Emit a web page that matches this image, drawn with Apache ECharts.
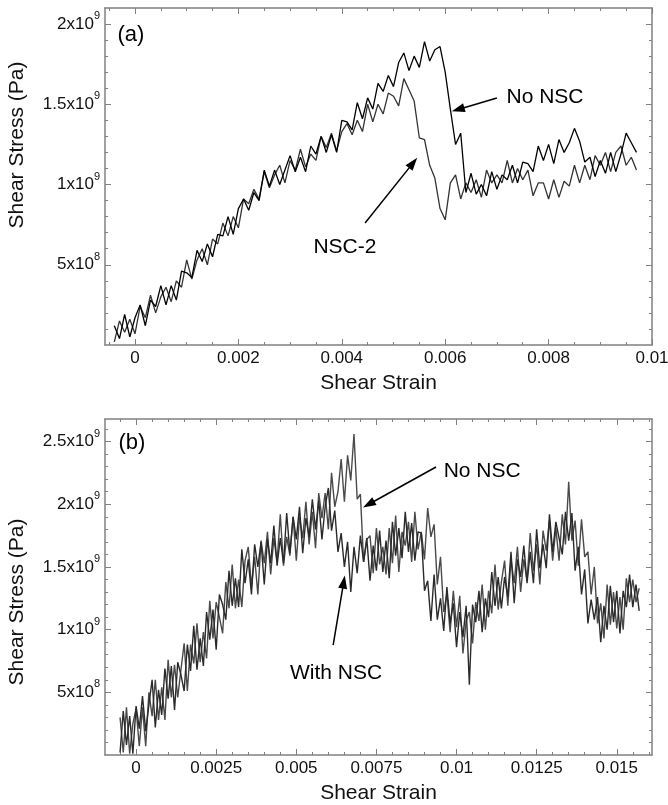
<!DOCTYPE html>
<html>
<head>
<meta charset="utf-8">
<script src="https://cdn.jsdelivr.net/npm/echarts@6/dist/echarts.min.js"></script>
<style>
  html, body { margin: 0; padding: 0; background: #fff; }
  #chart { width: 668px; height: 805px; }
</style>
</head>
<body>
<div id="chart"></div>
<script>
// stress values are in units of 1e9 Pa

// (a) No NSC vs NSC-2
var strainA = [
  -0.0004, -0.0003, -0.0002, -0.0001, 0, 0.0001, 0.0002, 0.0003, 0.0004, 0.0005,
  0.0006, 0.0007, 0.0008, 0.0009, 0.0010, 0.0011, 0.0012, 0.0013, 0.0014, 0.0015,
  0.0016, 0.0017, 0.0018, 0.0019, 0.0020, 0.0021, 0.0022, 0.0023, 0.0024, 0.0025,
  0.0026, 0.0027, 0.0028, 0.0029, 0.0030, 0.0031, 0.0032, 0.0033, 0.0034, 0.0035,
  0.0036, 0.0037, 0.0038, 0.0039, 0.0040, 0.0041, 0.0042, 0.0043, 0.0044, 0.0045,
  0.0046, 0.0047, 0.0048, 0.0049, 0.0050, 0.0051, 0.0052, 0.0053, 0.0054, 0.0055,
  0.0056, 0.0057, 0.0058, 0.0059, 0.0060, 0.0061, 0.0062, 0.0063, 0.0064, 0.0065,
  0.0066, 0.0067, 0.0068, 0.0069, 0.0070, 0.0071, 0.0072, 0.0073, 0.0074, 0.0075,
  0.0076, 0.0077, 0.0078, 0.0079, 0.0080, 0.0081, 0.0082, 0.0083, 0.0084, 0.0085,
  0.0086, 0.0087, 0.0088, 0.0089, 0.0090, 0.0091, 0.0092, 0.0093, 0.0094, 0.0095,
  0.0096, 0.0097
];
var stressNoNscA = [
  0.12, 0.04, 0.19, 0.05, 0.17, 0.25, 0.12, 0.28, 0.24, 0.37,
  0.25, 0.37, 0.28, 0.46, 0.45, 0.42, 0.59, 0.52, 0.63, 0.55,
  0.69, 0.68, 0.80, 0.69, 0.85, 0.91, 0.84, 0.95, 0.90, 1.09,
  0.99, 1.09, 1.00, 1.09, 1.18, 1.08, 1.17, 1.08, 1.24, 1.19,
  1.30, 1.20, 1.31, 1.20, 1.40, 1.39, 1.34, 1.51, 1.41, 1.54,
  1.47, 1.63, 1.58, 1.68, 1.61, 1.76, 1.82, 1.71, 1.80, 1.73,
  1.89, 1.77, 1.84, 1.86, 1.70, 1.47, 1.25, 1.32, 0.95, 1.07,
  0.94, 1.00, 0.93, 1.08, 0.97, 1.06, 1.03, 1.12, 1.01, 1.14,
  1.13, 1.08, 1.24, 1.15, 1.25, 1.13, 1.28, 1.20, 1.26, 1.35,
  1.27, 1.14, 1.17, 1.05, 1.15, 1.07, 1.20, 1.08, 1.19, 1.32,
  1.26, 1.20
];
var stressNsc2A = [
  0.02, 0.15, 0.08, 0.16, 0.07, 0.24, 0.17, 0.31, 0.20, 0.30,
  0.36, 0.27, 0.40, 0.36, 0.53, 0.41, 0.53, 0.60, 0.50, 0.66,
  0.63, 0.76, 0.68, 0.80, 0.73, 0.91, 0.88, 0.97, 0.91, 1.08,
  0.98, 1.06, 1.12, 1.01, 1.15, 1.09, 1.22, 1.11, 1.19, 1.15,
  1.30, 1.23, 1.32, 1.21, 1.33, 1.38, 1.31, 1.40, 1.33, 1.50,
  1.39, 1.50, 1.44, 1.57, 1.55, 1.49, 1.66, 1.59, 1.52, 1.29,
  1.28, 1.12, 1.04, 0.85, 0.78, 1.01, 1.06, 0.91, 1.01, 0.95,
  1.03, 0.92, 1.09, 1.01, 1.06, 1.01, 1.15, 1.01, 1.10, 1.03,
  1.09, 0.93, 1.01, 1.01, 0.91, 1.03, 0.92, 1.02, 0.99, 1.12,
  1.01, 1.12, 1.03, 1.18, 1.12, 1.20, 1.08, 1.20, 1.24, 1.12,
  1.17, 1.09
];

// (b) No NSC vs With NSC
var strainB = [
  -0.0005, -0.0004, -0.0003, -0.0002, -0.0001, 0, 0.0001, 0.0002, 0.0003, 0.0004,
  0.0005, 0.0006, 0.0007, 0.0008, 0.0009, 0.0010, 0.0011, 0.0012, 0.0013, 0.0014,
  0.0015, 0.0016, 0.0017, 0.0018, 0.0019, 0.0020, 0.0021, 0.0022, 0.0023, 0.0024,
  0.0025, 0.0026, 0.0027, 0.0028, 0.0029, 0.0030, 0.0031, 0.0032, 0.0033, 0.0034,
  0.0035, 0.0036, 0.0037, 0.0038, 0.0039, 0.0040, 0.0041, 0.0042, 0.0043, 0.0044,
  0.0045, 0.0046, 0.0047, 0.0048, 0.0049, 0.0050, 0.0051, 0.0052, 0.0053, 0.0054,
  0.0055, 0.0056, 0.0057, 0.0058, 0.0059, 0.0060, 0.0061, 0.0062, 0.0063, 0.0064,
  0.0065, 0.0066, 0.0067, 0.0068, 0.0069, 0.0070, 0.0071, 0.0072, 0.0073, 0.0074,
  0.0075, 0.0076, 0.0077, 0.0078, 0.0079, 0.0080, 0.0081, 0.0082, 0.0083, 0.0084,
  0.0085, 0.0086, 0.0087, 0.0088, 0.0089, 0.0090, 0.0091, 0.0092, 0.0093, 0.0094,
  0.0095, 0.0096, 0.0097, 0.0098, 0.0099, 0.0100, 0.0101, 0.0102, 0.0103, 0.0104,
  0.0105, 0.0106, 0.0107, 0.0108, 0.0109, 0.0110, 0.0111, 0.0112, 0.0113, 0.0114,
  0.0115, 0.0116, 0.0117, 0.0118, 0.0119, 0.0120, 0.0121, 0.0122, 0.0123, 0.0124,
  0.0125, 0.0126, 0.0127, 0.0128, 0.0129, 0.0130, 0.0131, 0.0132, 0.0133, 0.0134,
  0.0135, 0.0136, 0.0137, 0.0138, 0.0139, 0.0140, 0.0141, 0.0142, 0.0143, 0.0144,
  0.0145, 0.0146, 0.0147, 0.0148, 0.0149, 0.0150, 0.0151, 0.0152, 0.0153, 0.0154,
  0.0155, 0.0156, 0.0157
];
var stressNoNscB = [
  0.30, 0.02, 0.38, 0.01, 0.25, 0.37, 0.07, 0.38, 0.07, 0.50,
  0.31, 0.60, 0.28, 0.54, 0.28, 0.76, 0.46, 0.72, 0.46, 0.68,
  0.89, 0.51, 0.88, 0.73, 1.05, 0.74, 0.98, 0.77, 1.23, 0.93,
  1.22, 1.10, 0.97, 1.38, 1.17, 1.52, 1.17, 1.40, 1.18, 1.55,
  1.66, 1.35, 1.58, 1.28, 1.71, 1.53, 1.78, 1.44, 1.73, 1.54,
  1.92, 1.51, 1.74, 1.59, 1.90, 1.55, 1.90, 1.73, 2.02, 1.68,
  1.94, 1.65, 2.09, 1.89, 2.09, 1.80, 2.25, 1.98, 2.10, 2.36,
  2.02, 2.39, 2.19, 2.56, 2.04, 2.08, 1.54, 1.72, 1.75, 1.45,
  1.81, 1.52, 1.66, 1.44, 1.81, 1.53, 1.91, 1.46, 1.78, 1.67,
  1.86, 1.54, 1.94, 1.64, 1.78, 1.56, 1.97, 1.74, 1.84, 1.36,
  1.58, 1.14, 1.29, 0.98, 1.31, 1.02, 1.27, 0.81, 1.07, 1.14,
  0.89, 1.22, 1.07, 1.36, 1.00, 1.31, 1.13, 1.52, 1.16, 1.38,
  1.55, 1.19, 1.56, 1.37, 1.66, 1.30, 1.56, 1.39, 1.77, 1.47,
  1.68, 1.36, 1.79, 1.63, 1.87, 1.55, 1.81, 1.55, 1.92, 1.68,
  2.18, 1.71, 1.87, 1.51, 1.88, 1.58, 1.62, 1.28, 1.50, 1.05,
  1.21, 0.93, 1.36, 1.04, 1.30, 1.01, 1.26, 1.00, 1.41, 1.22,
  1.40, 1.22, 1.33
];
var stressWithNscB = [
  0.02, 0.35, 0.08, 0.31, 0.01, 0.39, 0.21, 0.47, 0.19, 0.40,
  0.60, 0.22, 0.52, 0.32, 0.69, 0.45, 0.71, 0.36, 0.74, 0.64,
  0.51, 0.88, 0.67, 1.03, 0.68, 0.93, 0.71, 1.14, 0.92, 1.16,
  0.84, 1.28, 1.20, 1.08, 1.47, 1.19, 1.41, 1.18, 1.64, 1.37,
  1.56, 1.28, 1.68, 1.50, 1.70, 1.36, 1.72, 1.53, 1.83, 1.51,
  1.73, 1.53, 1.93, 1.61, 1.90, 1.72, 1.98, 1.61, 1.89, 1.74,
  2.04, 1.80, 2.03, 1.72, 1.98, 2.13, 1.79, 1.95, 1.62, 1.77,
  1.50, 1.70, 1.30, 1.66, 1.45, 1.75, 1.54, 1.73, 1.39, 1.67,
  1.47, 1.79, 1.46, 1.71, 1.41, 1.86, 1.59, 1.81, 1.57, 1.94,
  1.62, 1.85, 1.55, 1.78, 1.77, 1.31, 1.39, 1.07, 1.44, 1.08,
  1.25, 0.99, 1.34, 1.05, 1.21, 0.86, 1.14, 0.94, 1.19, 0.56,
  1.20, 1.06, 1.31, 0.98, 1.25, 1.10, 1.46, 1.19, 1.42, 1.17,
  1.42, 1.26, 1.62, 1.21, 1.56, 1.42, 1.67, 1.37, 1.62, 1.37,
  1.80, 1.49, 1.68, 1.49, 1.92, 1.62, 1.86, 1.73, 1.60, 1.94,
  1.71, 1.93, 1.47, 1.66, 1.28, 1.48, 1.05, 1.24, 1.08, 1.26,
  0.90, 1.19, 1.00, 1.35, 1.06, 1.31, 0.97, 1.31, 1.18, 1.44,
  1.18, 1.36, 1.15
];

// ticks
var xTicksA = [0, 0.002, 0.004, 0.006, 0.008, 0.01];
var xTickLabelsA = ['0', '0.002', '0.004', '0.006', '0.008', '0.01'];
var xMinorA = [-0.0005, 0.0005, 0.001, 0.0015, 0.0025, 0.003, 0.0035, 0.0045, 0.005, 0.0055,
  0.0065, 0.007, 0.0075, 0.0085, 0.009, 0.0095];
var yTicksA = [0.5, 1, 1.5, 2];
var yTickLabelsA = ['5x10^8', '1x10^9', '1.5x10^9', '2x10^9'];
var yMinorA = [0.1, 0.2, 0.3, 0.4, 0.6, 0.7, 0.8, 0.9, 1.1, 1.2, 1.3, 1.4, 1.6, 1.7, 1.8, 1.9];

var xTicksB = [0, 0.0025, 0.005, 0.0075, 0.01, 0.0125, 0.015];
var xTickLabelsB = ['0', '0.0025', '0.005', '0.0075', '0.01', '0.0125', '0.015'];
var xMinorB = [-0.0005, 0.0005, 0.001, 0.0015, 0.002, 0.003, 0.0035, 0.004, 0.0045, 0.0055,
  0.006, 0.0065, 0.007, 0.008, 0.0085, 0.009, 0.0095, 0.0105, 0.011, 0.0115,
  0.012, 0.013, 0.0135, 0.014, 0.0145, 0.0155, 0.016];
var yTicksB = [0.5, 1, 1.5, 2, 2.5];
var yTickLabelsB = ['5x10^8', '1x10^9', '1.5x10^9', '2x10^9', '2.5x10^9'];
var yMinorB = [0.1, 0.2, 0.3, 0.4, 0.6, 0.7, 0.8, 0.9, 1.1, 1.2, 1.3, 1.4, 1.6, 1.7, 1.8, 1.9,
  2.1, 2.2, 2.3, 2.4, 2.6];

var FONT = "'Liberation Sans', Arial, Helvetica, sans-serif";
var FRAME = '#808080';
var INK = '#111';

function pairs(xs, ys) {
  return xs.map(function (x, i) { return [x, ys[i]]; });
}

function pick(ticks, labels, v) {
  for (var i = 0; i < ticks.length; i++) {
    if (Math.abs(ticks[i] - v) < 1e-9) return labels[i];
  }
  return '';
}

// '1.5x10^9' -> rich text with superscript exponent
function powLabel(s) {
  var p = s.split('^');
  return '{m|' + p[0] + '}{e|' + p[1] + '}';
}

// bottom/left axis with labels + minor ticks, mirrored ticks on top/right
function makeAxes(dim, gi, min, max, ticks, labels, minor) {
  var sides = dim === 'x' ? ['bottom', 'top'] : ['left', 'right'];
  var list = [];
  sides.forEach(function (side, k) {
    [ticks, minor].forEach(function (vals, j) {
      var ax = {
        type: 'value',
        gridIndex: gi,
        position: side,
        min: min,
        max: max,
        splitLine: { show: false },
        axisLine: { show: j === 0, onZero: false, lineStyle: { color: FRAME, width: 1.5 } },
        axisTick: {
          show: true,
          inside: true,
          length: j === 0 ? 6 : 3,
          customValues: vals,
          lineStyle: { color: FRAME, width: 1 },
        },
        axisLabel: { show: false },
      };
      if (k === 0 && j === 0) {
        if (dim === 'x') {
          ax.axisLabel = {
            show: true,
            customValues: ticks,
            margin: 5,
            color: INK,
            fontSize: 17,
            fontFamily: FONT,
            formatter: function (v) { return pick(ticks, labels, v); },
          };
          ax.name = 'Shear Strain';
          ax.nameLocation = 'middle';
          ax.nameGap = 28;
          ax.nameTextStyle = { fontSize: 21, color: INK, fontFamily: FONT };
        } else {
          ax.axisLabel = {
            show: true,
            customValues: ticks,
            margin: 5,
            padding: [0, 0, 5, 0],
            formatter: function (v) { return powLabel(pick(ticks, labels, v)); },
            rich: {
              m: { fontSize: 17, lineHeight: 22, verticalAlign: 'bottom', color: INK, fontFamily: FONT },
              e: { fontSize: 11, lineHeight: 22, verticalAlign: 'top', color: INK, fontFamily: FONT },
            },
          };
        }
      }
      list.push(ax);
    });
  });
  return list;
}

var arrowEnd = { symbol: 'triangle', symbolSize: [9, 13] };

function arrow(from, to) {
  return [
    { coord: from, symbol: 'none' },
    Object.assign({ coord: to }, arrowEnd),
  ];
}

function note(text, coord, size) {
  return { name: text, coord: coord, label: { fontSize: size || 21 } };
}

var noteStyle = {
  symbol: 'circle',
  symbolSize: 1,
  silent: true,
  itemStyle: { color: 'rgba(0,0,0,0)' },
  label: {
    show: true,
    position: 'inside',
    color: '#000',
    fontFamily: FONT,
    formatter: function (p) { return p.name; },
  },
};

var arrowStyle = {
  silent: true,
  lineStyle: { color: '#000', width: 1.5, type: 'solid' },
  label: { show: false },
};

var option = {
  animation: false,
  backgroundColor: '#fff',
  textStyle: { fontFamily: FONT },
  grid: [
    { left: 105, top: 8, width: 547, height: 337, outerBoundsMode: 'none' },
    { left: 105, top: 419, width: 547, height: 336, outerBoundsMode: 'none' },
  ],
  xAxis: [].concat(
    makeAxes('x', 0, -0.00058, 0.01, xTicksA, xTickLabelsA, xMinorA),
    makeAxes('x', 1, -0.00097, 0.0161, xTicksB, xTickLabelsB, xMinorB)
  ),
  yAxis: [].concat(
    makeAxes('y', 0, 0, 2.1, yTicksA, yTickLabelsA, yMinorA),
    makeAxes('y', 1, 0, 2.68, yTicksB, yTickLabelsB, yMinorB)
  ),
  series: [
    {
      name: 'NSC-2',
      type: 'line',
      xAxisIndex: 0,
      yAxisIndex: 0,
      data: pairs(strainA, stressNsc2A),
      symbol: 'none',
      lineStyle: { color: '#333', width: 1.3 },
      itemStyle: { color: '#333' },
      z: 2,
    },
    {
      name: 'No NSC',
      type: 'line',
      xAxisIndex: 0,
      yAxisIndex: 0,
      data: pairs(strainA, stressNoNscA),
      symbol: 'none',
      lineStyle: { color: '#000', width: 1.3 },
      itemStyle: { color: '#000' },
      z: 3,
      markLine: Object.assign({}, arrowStyle, {
        data: [
          arrow([0.0070, 1.539], [0.00625, 1.468]),
          arrow([0.00445, 0.760], [0.00538, 1.135]),
        ],
      }),
      markPoint: Object.assign({}, noteStyle, {
        data: [
          note('No NSC', [0.00793, 1.545]),
          note('NSC-2', [0.00406, 0.611]),
          note('(a)', [-0.00008, 1.932], 22),
        ],
      }),
    },
    {
      name: 'No NSC',
      type: 'line',
      xAxisIndex: 4,
      yAxisIndex: 4,
      data: pairs(strainB, stressNoNscB),
      symbol: 'none',
      lineStyle: { color: '#4a4a4a', width: 1.4 },
      itemStyle: { color: '#4a4a4a' },
      z: 2,
    },
    {
      name: 'With NSC',
      type: 'line',
      xAxisIndex: 4,
      yAxisIndex: 4,
      data: pairs(strainB, stressWithNscB),
      symbol: 'none',
      lineStyle: { color: '#2a2a2a', width: 1.4 },
      itemStyle: { color: '#2a2a2a' },
      z: 3,
      markLine: Object.assign({}, arrowStyle, {
        data: [
          arrow([0.00936, 2.297], [0.00726, 2.0]),
          arrow([0.00615, 0.877], [0.00648, 1.38]),
        ],
      }),
      markPoint: Object.assign({}, noteStyle, {
        data: [
          note('No NSC', [0.0108, 2.265]),
          note('With NSC', [0.00624, 0.654]),
          note('(b)', [-0.00013, 2.489], 22),
        ],
      }),
    },
  ],
  graphic: [
    {
      type: 'text',
      x: 17,
      y: 145,
      rotation: Math.PI / 2,
      style: {
        text: 'Shear Stress (Pa)',
        fill: INK,
        fontSize: 21,
        fontFamily: FONT,
        textAlign: 'center',
        textVerticalAlign: 'middle',
      },
    },
    {
      type: 'text',
      x: 17,
      y: 602,
      rotation: Math.PI / 2,
      style: {
        text: 'Shear Stress (Pa)',
        fill: INK,
        fontSize: 21,
        fontFamily: FONT,
        textAlign: 'center',
        textVerticalAlign: 'middle',
      },
    },
  ],
};

var chart = echarts.init(document.getElementById('chart'));
chart.setOption(option);
</script>
</body>
</html>
